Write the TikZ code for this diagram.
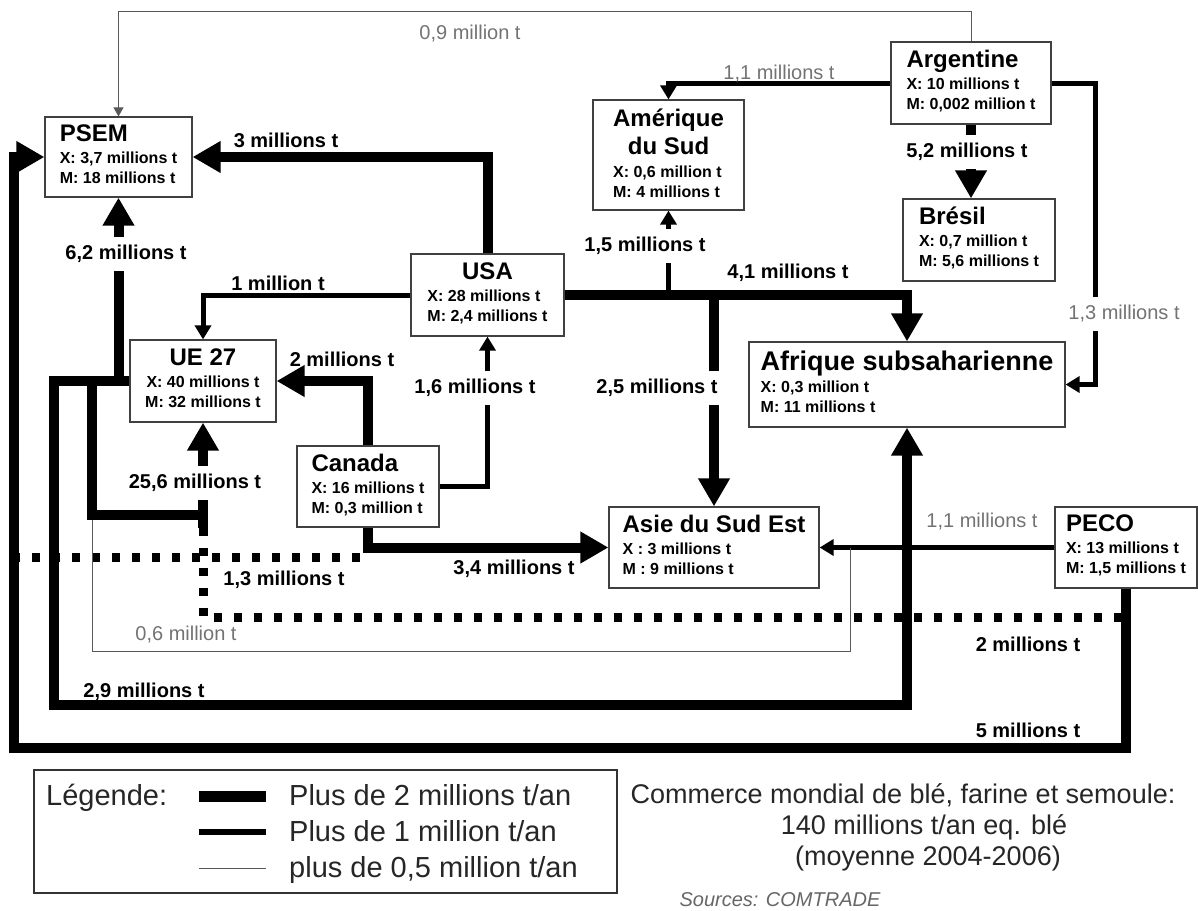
\documentclass[tikz,border=0pt]{standalone}
\usepackage{fontspec}
\setmainfont{Liberation Sans}
\usetikzlibrary{arrows.meta}

\newcommand{\titre}{\fontsize{24}{28}\selectfont\bfseries}
\newcommand{\paysnode}[3]{%
  \begin{tabular}{@{}l@{}}
    {\titre #1}\\[2pt] #2\\ #3
  \end{tabular}
}
\newcommand{\paysnodec}[3]{%
  \begin{tabular}{@{}l@{}}
    \multicolumn{1}{@{}c@{}}{\titre #1}\\[2pt] #2\\ #3
  \end{tabular}
}
\newcommand{\paysnodecc}[3]{%
  \begin{tabular}{@{}c@{}}
    {\titre #1}\\[2pt] #2\\ #3
  \end{tabular}
}

\begin{document}
\begin{tikzpicture}[x=1pt, y=-1pt,
      pays/.style={draw=black!75, line width=1.2pt, fill=white, inner sep=0pt,
        font=\fontsize{16}{20}\selectfont\bfseries},
      flux3/.style={line width=10pt, -{Triangle[length=28pt,width=30pt]}},
      flux2/.style={line width=5pt, -{Triangle[length=14pt,width=16pt]}},
      flux1/.style={line width=1pt, draw=black!65, -{Triangle[length=9pt,width=10pt]}},
      trait3/.style={line width=10pt},
      trait1/.style={line width=1pt, draw=black!65},
      pointille/.style={line width=9pt, dash pattern=on 8pt off 12pt},
      lab/.style={font=\fontsize{20}{22}\selectfont\bfseries, inner sep=2pt},
      gris/.style={font=\fontsize{20}{22}\selectfont, text=black!55, inner sep=2pt},
      fond/.style={fill=white, inner xsep=4pt, inner ysep=8pt},
      leg/.style={font=\fontsize{29}{32}\selectfont, text=black!85, inner sep=0pt}
    ]
      \useasboundingbox (0,0) rectangle (1198,910);

      % pays
      \node[pays, minimum width=147pt, minimum height=80pt] (psem) at (118.5,157)
        {\paysnode{PSEM}{X: 3,7 millions t}{M: 18 millions t}};
      \node[pays, minimum width=160pt, minimum height=82pt] (arg) at (971,83)
        {\paysnode{Argentine}{X: 10 millions t}{M: 0,002 million t}};
      \node[pays, minimum width=151pt, minimum height=110pt] (amsud) at (668.5,155)
        {\paysnodec{\begin{tabular}{@{}c@{}}Amérique\\du Sud\end{tabular}}{X: 0,6 million t}{M: 4 millions t}};
      \node[pays, minimum width=152pt, minimum height=82pt] (bres) at (979,240)
        {\paysnode{Brésil}{X: 0,7 million t}{M: 5,6 millions t}};
      \node[pays, minimum width=153pt, minimum height=82pt] (usa) at (487.5,295)
        {\paysnodec{USA}{X: 28 millions t}{M: 2,4 millions t}};
      \node[pays, minimum width=146pt, minimum height=82pt] (ue) at (203,381)
        {\paysnodecc{UE 27}{X: 40 millions t}{M: 32 millions t}};
      \node[pays, minimum width=316pt, minimum height=85pt] (afr) at (907,384.5)
        {\paysnode{\fontsize{27}{30}\selectfont Afrique subsaharienne}{X: 0,3 million t}{M: 11 millions t}};
      \node[pays, minimum width=142pt, minimum height=81pt] (can) at (368,486.5)
        {\paysnode{Canada}{X: 16 millions t}{M: 0,3 million t}};
      \node[pays, minimum width=210pt, minimum height=81pt] (asie) at (714,547.5)
        {\paysnode{Asie du Sud Est}{X : 3 millions t}{M : 9 millions t}};
      \node[pays, minimum width=142pt, minimum height=81pt] (peco) at (1126,547.5)
        {\paysnode{PECO}{X: 13 millions t}{M: 1,5 millions t}};

      \coordinate (boucle) at (92,515);
      \coordinate (coinA) at (54,705);
      \coordinate (coinB) at (14,748);
      \coordinate (c06) at (850,651);
      \coordinate (d13) at (360,557);
      \coordinate (d2) at (1122,617);
      \coordinate (d2g) at (203,528);

      % Argentine
      \draw[flux1] (arg.north) -- ++(0,-30) -| (psem.north);
      \draw[flux2] (arg.west) -| (amsud.north);
      \draw[flux2] (arg.east) -- ++(44,0) |- (afr.east);
      \draw[flux3] (arg.south) -- (arg.south |- bres.north);

      % USA
      \draw[flux3] (usa.north) |- (psem.east);
      \draw[flux2] (usa.west) -| (ue.north);
      \draw[flux3] (usa.east) -| (afr.north);
      \draw[flux2] (amsud.south |- usa.east) -- (amsud.south);
      \draw[flux3] (asie.north |- usa.east) -- (asie.north);

      % Canada
      \draw[flux3] (can.north) |- (ue.east);
      \draw[flux2] (can.east) -| (usa.south);
      \draw[flux3] (can.south) |- (asie.west);
      \draw[pointille] (d13) -- (d13 -| coinB);

      % PECO
      \draw[flux2] (peco.west) -- (asie.east);
      \draw[pointille] (d2) -| (d2g);
      \draw[flux3] (peco.south) |- (coinB) |- (psem.west);

      % UE 27
      \draw[trait1] (boucle) |- (c06) -- (c06 |- peco.west);
      \draw[flux3] (ue.west) -| (psem.south);
      \draw[flux3] (ue.west) -| (coinA) -| (afr.south);
      \draw[flux3] (ue.west) -| (boucle) -| (ue.south);
      \draw[trait3] (ue.south |- boucle) ++(0,-13) -- ++(0,26);

      % quantites
      \node[gris] (l09) at (470,34) {0,9 million t};
      \node[gris] (l11a) at (779,74) {1,1 millions t};
      \node[lab, fond] (l52) at (967,152) {5,2 millions t};
      \node[lab] (l3) at (286,140) {3 millions t};
      \node[lab, fond] (l62) at (126,254) {6,2 millions t};
      \node[lab] (l1) at (278,283) {1 million t};
      \node[lab, fond] (l15) at (645,246) {1,5 millions t};
      \node[lab] (l41) at (788,273) {4,1 millions t};
      \node[gris, fond] (l13a) at (1124,314) {1,3 millions t};
      \node[lab] (l2a) at (342,359) {2 millions t};
      \node[lab, fond] (l16) at (475,388) {1,6 millions t};
      \node[lab, fond] (l25) at (657,388) {2,5 millions t};
      \node[lab, fond] (l256) at (195,483) {25,6 millions t};
      \node[lab] (l34) at (514,569) {3,4 millions t};
      \node[lab] (l13b) at (284,580) {1,3 millions t};
      \node[gris] (l11b) at (982,522) {1,1 millions t};
      \node[gris] (l06) at (186,635) {0,6 million t};
      \node[lab] (l29) at (144,692) {2,9 millions t};
      \node[lab] (l2b) at (1028,644) {2 millions t};
      \node[lab] (l5) at (1028,730) {5 millions t};

      % legende
      \node[draw=black!80, line width=1.2pt, minimum width=583pt, minimum height=123pt,
        inner sep=0pt] (legende) at (325.5,831.5) {};
      \node[leg, anchor=base west] (leg0) at (46,805) {Légende:};
      \node[leg, anchor=base west] (leg1) at (289,805) {Plus de 2 millions t/an};
      \node[leg, anchor=base west] (leg2) at (289,841) {Plus de 1 million t/an};
      \node[leg, anchor=base west] (leg3) at (289,877) {plus de 0,5 million t/an};
      \draw[line width=11pt] ([xshift=-90pt,yshift=9pt]leg1.base west) -- ([xshift=-23pt,yshift=9pt]leg1.base west);
      \draw[line width=6pt] ([xshift=-90pt,yshift=9pt]leg2.base west) -- ([xshift=-23pt,yshift=9pt]leg2.base west);
      \draw[trait1] ([xshift=-90pt,yshift=9pt]leg3.base west) -- ([xshift=-23pt,yshift=9pt]leg3.base west);

      \node[font=\fontsize{27}{30}\selectfont, text=black!85, anchor=base] (comm) at (903,803)
        {Commerce mondial de blé, farine et semoule:};
      \node[font=\fontsize{27}{30}\selectfont, text=black!85, anchor=base] (tot) at (924,834)
        {140 millions t/an eq. blé};
      \node[font=\fontsize{27}{30}\selectfont, text=black!85, anchor=base] (moy) at (928,865)
        {(moyenne 2004-2006)};
      \node[font=\fontsize{20}{22}\selectfont\itshape, text=black!60, anchor=base] (src) at (780,906)
        {Sources: COMTRADE};
    \end{tikzpicture}
\end{document}
